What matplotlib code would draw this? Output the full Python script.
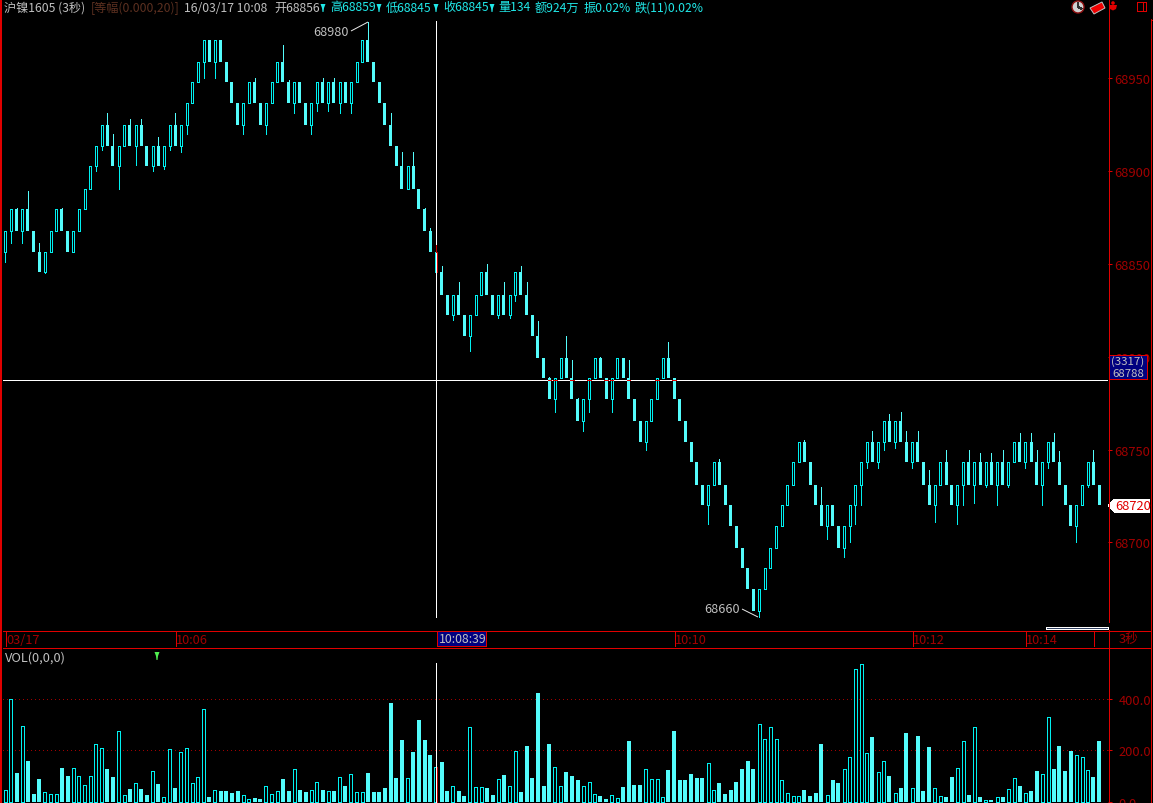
import matplotlib
matplotlib.use('Agg')
import matplotlib.pyplot as plt
from matplotlib.patches import Rectangle, Polygon, Circle

plt.rcParams['font.family'] = ['Noto Sans CJK SC', 'DejaVu Sans']

W, H = 1153, 804

price_levels = [68970.5, 68958.6, 68947.8, 68936.5, 68924.7, 68913.4, 68902.6, 68890.3,
                68879.5, 68867.7, 68856.4, 68845.6, 68833.2, 68822.4, 68811.1, 68799.3,
                68788.5, 68777.2, 68765.4, 68754.1, 68743.3, 68730.9, 68720.2, 68708.9,
                68697.0, 68686.3, 68675.0, 68663.1]

# each candle: which level its body starts from
brick_level = [9, 8, 8, 8, 8, 9, 10, 10, 9, 8, 8, 9, 9, 8, 7, 6, 5, 4, 4, 5,
               5, 4, 4, 4, 4, 5, 5, 5, 5, 4, 4, 4, 3, 2, 1, 0, 0, 0, 0, 1,
               2, 3, 3, 2, 2, 3, 3, 2, 1, 1, 2, 2, 2, 3, 3, 2, 2, 2, 2, 2,
               2, 2, 1, 0, 0, 1, 2, 3, 4, 5, 6, 6, 6, 7, 8, 9, 10, 11, 12, 12,
               12, 13, 13, 12, 11, 11, 12, 12, 12, 12, 11, 11, 12, 13, 14, 15, 16, 16, 15, 15,
               16, 17, 17, 16, 15, 15, 16, 16, 15, 15, 16, 17, 18, 18, 17, 16, 15, 15, 16, 17,
               18, 19, 20, 21, 21, 20, 20, 21, 22, 23, 24, 25, 26, 26, 25, 24, 23, 22, 21, 20,
               19, 19, 20, 21, 22, 22, 22, 23, 23, 22, 21, 20, 19, 19, 19, 18, 18, 18, 18, 19,
               19, 19, 20, 21, 21, 20, 20, 21, 21, 20, 20, 20, 20, 20, 20, 20, 20, 20, 19, 19,
               19, 19, 20, 20, 19, 19, 20, 21, 22, 22, 21, 20, 20, 21]

hollow_idx = [0, 1, 3, 7, 8, 9, 12, 13, 14, 15, 16, 17, 20, 21, 23, 26, 28, 29, 31, 32,
              33, 34, 35, 37, 42, 43, 46, 47, 48, 51, 54, 55, 57, 59, 61, 62, 63, 71, 76, 79,
              82, 83, 84, 87, 89, 90, 97, 98, 102, 103, 104, 107, 108, 113, 114, 115, 116, 124, 125,
              133, 134, 135, 136, 137, 138, 139, 140, 145, 148, 149, 150, 151, 152, 154, 155, 157,
              160, 164, 165, 168, 169, 171, 173, 175, 177, 178, 180, 183, 184, 189, 190, 191]

wick_high = {2: 68880, 4: 68889, 6: 68861, 10: 68880, 18: 68931, 19: 68920, 22: 68928, 24: 68928,
             27: 68918, 30: 68931, 44: 68950, 49: 68968, 50: 68949, 52: 68948, 56: 68950, 58: 68950,
             60: 68948, 64: 68980, 68: 68931, 70: 68910, 72: 68910, 74: 68880, 75: 68869, 76: 68860,
             77: 68849, 80: 68840, 85: 68850, 88: 68840, 91: 68849, 92: 68840, 94: 68819, 96: 68789,
             99: 68811, 100: 68798, 101: 68778, 105: 68800, 110: 68798, 117: 68808, 126: 68745,
             141: 68755, 144: 68730, 153: 68760, 156: 68769, 158: 68770, 159: 68760, 161: 68760,
             163: 68739, 166: 68750, 170: 68750, 172: 68748, 174: 68748, 176: 68750, 179: 68759,
             181: 68759, 182: 68750, 185: 68759, 186: 68749, 192: 68750}

wick_low = {0: 68851, 1: 68861, 3: 68861, 7: 68845, 16: 68900, 17: 68911, 20: 68890, 23: 68903,
            26: 68900, 28: 68901, 29: 68911, 31: 68910, 32: 68920, 35: 68950, 37: 68950, 42: 68920,
            46: 68920, 51: 68931, 54: 68920, 55: 68932, 57: 68932, 59: 68931, 61: 68931, 79: 68820,
            82: 68803, 87: 68821, 89: 68821, 90: 68830, 97: 68770, 102: 68760, 103: 68770, 107: 68770,
            113: 68750, 124: 68710, 133: 68660, 145: 68702, 148: 68692, 149: 68700, 150: 68710,
            151: 68720, 152: 68740, 154: 68740, 155: 68750, 157: 68751, 160: 68740, 164: 68711,
            168: 68710, 169: 68720, 171: 68721, 173: 68730, 175: 68720, 177: 68730, 180: 68740,
            183: 68720, 184: 68740, 189: 68700, 191: 68730}

volume = [46, 401, 112, 293, 159, 31, 89, 37, 30, 30, 132, 101, 130, 99, 65, 99, 223, 208, 128, 97,
          274, 26, 50, 72, 50, 27, 119, 70, 18, 204, 54, 192, 208, 72, 95, 359, 19, 45, 43, 43,
          35, 43, 26, 10, 15, 12, 61, 30, 41, 89, 43, 126, 46, 39, 45, 76, 46, 41, 43, 95,
          62, 107, 37, 37, 112, 39, 39, 54, 383, 93, 240, 93, 194, 317, 240, 182, 135, 155, 43, 61,
          43, 23, 289, 57, 57, 54, 27, 88, 105, 61, 196, 39, 217, 93, 422, 62, 225, 134, 61, 116,
          101, 85, 61, 76, 30, 23, 12, 26, 14, 58, 236, 66, 66, 126, 88, 88, 18, 124, 275, 85,
          85, 108, 93, 93, 150, 45, 74, 31, 46, 77, 128, 159, 128, 301, 244, 289, 244, 85, 34, 22,
          22, 46, 23, 35, 225, 26, 85, 74, 126, 173, 514, 533, 188, 252, 115, 157, 101, 34, 54, 267,
          53, 255, 43, 213, 53, 22, 19, 97, 130, 235, 27, 289, 19, 8, 8, 18, 19, 49, 92, 62,
          34, 43, 120, 107, 328, 128, 217, 120, 197, 181, 173, 123, 97, 236]

price_ticks = [68950, 68900, 68850, 68800, 68750, 68700]
vol_ticks = [400, 200, 0]
time_ticks = [(5, '03/17'), (175, '10:06'), (674, '10:10'), (912, '10:12'), (1025, '10:14'), (1093, '')]

BLACK = '#000000'
RED = '#e00000'
DARKRED = '#a00000'
CYAN = '#54fcfc'
CYAN2 = '#00f0f0'
GRAY = '#c0c0c0'
PX = 0.72  # one pixel in points


def add_ax(x0, y0, x1, y1, **kw):
    return fig.add_axes([x0 / W, 1 - y1 / H, (x1 - x0) / W, (y1 - y0) / H], **kw)


def bare(ax):
    ax.set_facecolor('none')
    for s in ax.spines.values():
        s.set_visible(False)
    ax.set_xticks([])


def draw_bars(ax, xs, tops, bottoms, filled_w, hollow_w, hollow_set):
    for i, t, b in zip(xs, tops, bottoms):
        if i in hollow_set:
            ax.add_patch(Rectangle((i - hollow_w / 2, b), hollow_w, t - b, facecolor=BLACK,
                                   edgecolor=CYAN2, linewidth=PX, antialiased=False, zorder=3))
        else:
            ax.add_patch(Rectangle((i - filled_w / 2, b), filled_w, t - b, facecolor=CYAN,
                                   edgecolor='none', linewidth=0, antialiased=False, zorder=3))


fig = plt.figure(figsize=(W / 100, H / 100), dpi=100, facecolor=BLACK)

step = 5.667
xlim = ((3 - 5.3) / step, (1108 - 5.3) / step)
idx = list(range(len(brick_level)))
hollow = set(hollow_idx)

# price panel
ax = add_ax(3, 20, 1108, 631)
bare(ax)
ax.set_xlim(*xlim)
ax.set_ylim(68992.5 - 0.5382 * 631, 68992.5 - 0.5382 * 20)
ax.yaxis.tick_right()
ax.set_yticks(price_ticks)
ax.set_yticklabels([str(p) for p in price_ticks])
ax.tick_params(axis='y', colors=DARKRED, labelsize=9.3, length=3, width=PX, pad=1.5)
ax.tick_params(axis='y', color=RED)

edges = price_levels + [68652.0]
tops = [edges[t] for t in brick_level]
bots = [edges[t + 1] for t in brick_level]
draw_bars(ax, idx, tops, bots, 3 / step, 2 / step, hollow)

for i, v in wick_high.items():
    col = CYAN if i not in hollow else CYAN2
    z = 2
    if i == 76:
        col = '#c00000'
        z = 6
    ax.vlines(i, tops[i], v, color=col, linewidth=PX, antialiased=False, zorder=z)
for i, v in wick_low.items():
    col = CYAN if i not in hollow else CYAN2
    ax.vlines(i, bots[i], v, color=col, linewidth=PX, antialiased=False, zorder=2)

# crosshair sits on the selected bar
cross_i = 76
cross_p = 68787.5
ax.axhline(cross_p, color='white', linewidth=PX, antialiased=False, zorder=5)
ax.vlines(cross_i, 68992.5 - 0.5382 * 618, 68992.5 - 0.5382 * 22, color='white',
          linewidth=PX, antialiased=False, zorder=5)
ax.vlines(cross_i + 1 / step, bots[cross_i], tops[cross_i], color='#c00000', linewidth=PX, antialiased=False, zorder=6)
for i in idx:
    if brick_level[i] == 16:
        ax.hlines(cross_p, i - 0.28, i + 0.28, color=RED, linewidth=PX, antialiased=False, zorder=6)

# volume panel
vax = add_ax(3, 650, 1108, 804)
bare(vax)
vax.set_xlim(*xlim)
vax.set_ylim(-3.9, 593)
vax.yaxis.tick_right()
vax.set_yticks(vol_ticks)
vax.set_yticklabels(['%.1f' % v for v in vol_ticks])
vax.tick_params(axis='y', colors=DARKRED, labelsize=9.3, length=3, width=PX, pad=4.5)
vax.tick_params(axis='y', color=RED)
for v in vol_ticks[:2]:
    vax.axhline(v, color=DARKRED, linewidth=PX, linestyle=(0, (1, 4)), antialiased=False, zorder=1)
draw_bars(vax, idx, volume, [0] * len(volume), 4 / step, 3 / step, hollow)
vax.vlines(cross_i, 0, 538, color='white', linewidth=PX, antialiased=False, zorder=5)
vax.vlines(cross_i + 1 / step, 0, volume[cross_i], color='#c00000', linewidth=PX, antialiased=False, zorder=6)

# everything else is placed in screen pixels
ov = fig.add_axes([0, 0, 1, 1], zorder=10)
ov.set_xlim(0, W)
ov.set_ylim(H, 0)
ov.axis('off')
ov.patch.set_alpha(0)


def line(xs, ys, color=RED, lw=1.0, aa=False, **kw):
    ov.plot(xs, ys, color=color, linewidth=lw * PX, antialiased=aa, solid_capstyle='butt', **kw)


line([1, 1], [0, H], lw=2)
line([1108.5, 1108.5], [0, 623])
line([1108.5, 1108.5], [631, H])
line([1150.5, 1150.5], [20, H])
line([3, 1151], [631.5, 631.5])
line([3, 1151], [648.5, 648.5])

for x, lab in time_ticks:
    line([x + 0.5, x + 0.5], [632, 647])
    if lab:
        ov.text(x + 1, 641, lab, color=DARKRED, fontsize=9.2, va='center', ha='left')

# selected time box
ov.add_patch(Rectangle((437, 632), 49, 15, facecolor='#000080', edgecolor=RED, linewidth=PX, antialiased=False))
ov.text(438.5, 640, '10:08:39', color=GRAY, fontsize=8.8, va='center', ha='left')
ov.text(1119, 640, '3秒', color=DARKRED, fontsize=9.2, va='center', ha='left')

# scroll bar
ov.add_patch(Rectangle((1046, 627.5), 62, 2.5, facecolor='#304060', edgecolor='white', linewidth=PX, antialiased=False))

# header
header = [(4, '沪镍1605 (3秒)', GRAY), (91, '[等幅(0.000,20)]', '#5c3020'), (184, '16/03/17 10:08', GRAY),
          (274, '开68856', GRAY), (330, '高68859', '#20e8e8'), (386, '低68845', '#20e8e8'),
          (443, '收68845', '#20e8e8'), (498, '量134', '#20e8e8'), (535, '额924万', '#20e8e8'),
          (584, '振0.02%', '#20e8e8'), (635, '跌(11)0.02%', '#20e8e8')]
for x, s, c in header:
    ov.text(x, 8, s, color=c, fontsize=8.75, va='center', ha='left')
for x in [323, 379, 436, 492]:
    ov.add_patch(Polygon([(x - 2.5, 5), (x + 2.5, 5), (x + 1, 9), (x + 0.5, 13), (x - 0.5, 13), (x - 1, 9)],
                         facecolor='#20e8e8', edgecolor='none'))

# extreme labels
ov.text(313, 32, '68980', color=GRAY, fontsize=9.1, va='center', ha='left')
line([351, 368], [32, 23], color='#e8e8e8', aa=True)
ov.text(704, 610, '68660', color=GRAY, fontsize=9.1, va='center', ha='left')
line([742, 758], [610, 618], color='#e8e8e8', aa=True)

# crosshair value box
ov.add_patch(Rectangle((1109, 356), 38, 24, facecolor='#000080', edgecolor=RED, linewidth=PX, antialiased=False))
ov.text(1128, 362, '(3317)', color=GRAY, fontsize=8.2, va='center', ha='center')
ov.text(1128, 374.5, '68788', color=GRAY, fontsize=8.2, va='center', ha='center')

# last price flag
ov.add_patch(Polygon([(1108, 506.5), (1115, 500), (1150, 500), (1150, 513.5), (1115, 513.5)],
                     facecolor='white', edgecolor='none', antialiased=False))
ov.text(1115, 506.5, '68720', color=RED, fontsize=9.3, va='center', ha='left')

# volume title and marker
ov.text(5, 658, 'VOL(0,0,0)', color=GRAY, fontsize=9.2, va='center', ha='left')
ov.add_patch(Polygon([(154.5, 653), (159.5, 653), (158, 657), (157.5, 661), (156.5, 661), (156, 657)],
                     facecolor='#50f050', edgecolor='none'))

# toolbar icons
ov.add_patch(Circle((1078, 8), 6, facecolor='#d0d0d0', edgecolor='#901010', linewidth=1))
line([1078, 1078, 1082], [3.5, 8, 10], color='#303030')
ov.add_patch(Polygon([(1090, 9), (1102, 3), (1105, 9), (1094, 15)], facecolor='#f00000', edgecolor='#c0c0c0', linewidth=0.7))
ov.add_patch(Circle((1113, 4), 1.8, facecolor=RED, edgecolor='none'))
ov.add_patch(Polygon([(1109, 6), (1117, 6), (1116, 10), (1113, 11.5), (1110, 10)], facecolor=RED, edgecolor='none'))
ov.add_patch(Rectangle((1136.5, 2.5), 9.5, 9.5, facecolor='none', edgecolor=RED, linewidth=PX, antialiased=False))
line([1142.5, 1142.5], [2.5, 12])
line([1150.5, 1153], [20.5, 20.5])

fig.savefig('out.png', dpi=100, facecolor=BLACK)
